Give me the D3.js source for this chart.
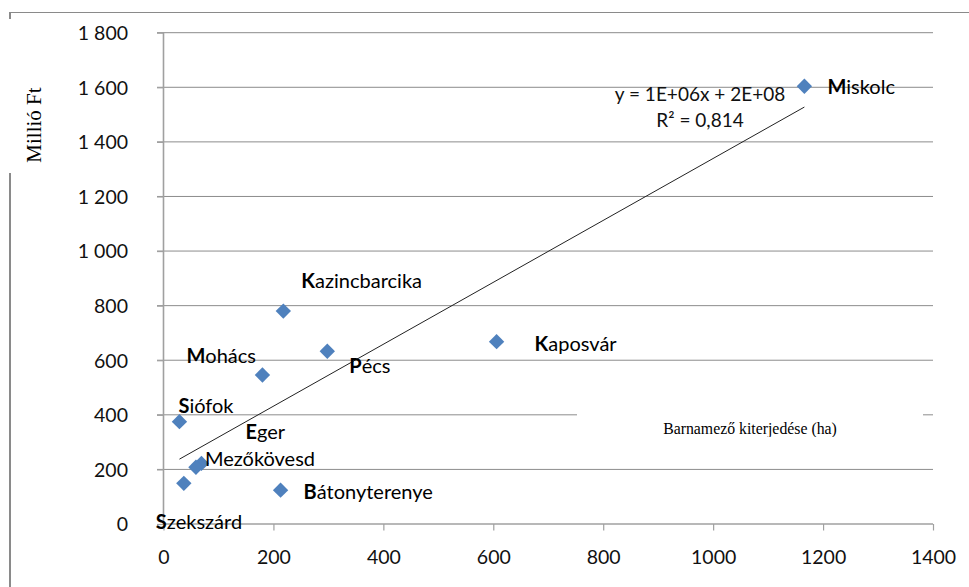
<!DOCTYPE html>
<html><head><meta charset="utf-8">
<script src="https://cdn.jsdelivr.net/npm/d3@7/dist/d3.min.js"></script>
<style>
html,body{margin:0;padding:0;background:#fff;}
svg{display:block;}
</style></head>
<body>
<script>
// ---- data ----
const cities = ["Miskolc","Kazincbarcika","Pécs","Kaposvár","Mohács","Siófok","Eger","Mezőkövesd","Szekszárd","Bátonyterenye"];
const area   = [1166, 218, 298, 606, 180, 29, 69, 59, 37, 213];      // ha
const value  = [1604, 780, 633, 668, 546, 375, 222, 208, 149, 124];  // Millió Ft
const boldFirst = [true,true,true,true,true,true,true,false,true,true];
const xTicks = [0,200,400,600,800,1000,1200,1400];
const yTicks = [0,200,400,600,800,1000,1200,1400,1600,1800];
const yTickLabels = ["0","200","400","600","800","1 000","1 200","1 400","1 600","1 800"];
const eqLines = ["y = 1E+06x + 2E+08","R² = 0,814"];
const xTitle = "Barnamező kiterjedése (ha)";
const yTitle = "Millió Ft";

// ---- layout (label offsets in px relative to marker) ----
const labelOffsets = [[23,8],[18,-23],[22,22],[38,9],[-76,-12],[-1,-9],[44,-24],[9,-1],[-28,46],[23,9]];

const W = 969, H = 587;
const svg = d3.select("body").append("svg").attr("width", W).attr("height", H);

const x = d3.scaleLinear().domain([0,1400]).range([163.5, 933]);
const y = d3.scaleLinear().domain([0,1800]).range([524, 32.7]);

// outer frame
svg.append("line").attr("x1",10).attr("x2",W).attr("y1",12.5).attr("y2",12.5).attr("stroke","#8a8a8a").attr("stroke-width",1.2);
svg.append("line").attr("x1",10).attr("x2",10).attr("y1",12).attr("y2",H).attr("stroke","#8a8a8a").attr("stroke-width",2);

// gridlines (horizontal)
svg.append("g").selectAll("line").data(yTicks.filter(d=>d>0)).join("line")
  .attr("x1",157).attr("x2",933)
  .attr("y1",d=>y(d)).attr("y2",d=>y(d))
  .attr("stroke","#8c8c8c").attr("stroke-width",1);

// axes
const fontSans = "Lato, 'Open Sans', sans-serif";
const yAxis = svg.append("g").attr("transform",`translate(${x(0)},0)`)
  .call(d3.axisLeft(y).tickValues(yTicks).tickSize(6.5).tickPadding(29).tickFormat((d,i)=>yTickLabels[i]));
const xAxis = svg.append("g").attr("transform",`translate(0,${y(0)})`)
  .call(d3.axisBottom(x).tickValues(xTicks).tickSize(6.5).tickPadding(20).tickFormat(d3.format("d")));
[xAxis,yAxis].forEach(a=>{
  a.select(".domain").attr("stroke","#a0a0a0").attr("stroke-width",1.6);
  a.selectAll(".tick line").attr("stroke","#a0a0a0").attr("stroke-width",1.2);
  a.selectAll("text").attr("font-family",fontSans).attr("font-size",19.5).attr("fill","#111");
});
yAxis.selectAll(".tick text").attr("dy","0.35em");
xAxis.selectAll(".tick text").attr("dy","0.68em");
yAxis.select(".domain").attr("d",`M0,${y(1800)}V${y(0)}`);
xAxis.select(".domain").attr("d",`M${x(0)},0H${x(1400)}`);

// x-axis title with white box (clipped)
const defs = svg.append("defs");
defs.append("clipPath").attr("id","xtclip").append("rect").attr("x",577).attr("y",404).attr("width",346).attr("height",33);
svg.append("rect").attr("x",577).attr("y",404).attr("width",346).attr("height",33).attr("fill","#fff");
svg.append("text").attr("clip-path","url(#xtclip)")
  .attr("x",750).attr("y",434).attr("text-anchor","middle")
  .attr("font-family","'Liberation Serif','Times New Roman',serif").attr("font-size",15.8).attr("fill","#000")
  .text(xTitle);

// y-axis title with white box
svg.append("rect").attr("x",0).attr("y",19).attr("width",58).attr("height",154).attr("fill","#fff");
svg.append("text").attr("transform","translate(41,125) rotate(-90)").attr("text-anchor","middle")
  .attr("font-family","'Liberation Serif','Times New Roman',serif").attr("font-size",21).attr("fill","#000")
  .text(yTitle);

// trendline from least squares
const n = area.length;
const mx = d3.mean(area), my = d3.mean(value);
let sxy=0, sxx=0;
for(let i=0;i<n;i++){ sxy += (area[i]-mx)*(value[i]-my); sxx += (area[i]-mx)**2; }
const slope = sxy/sxx, icpt = my - slope*mx;
const [xmin,xmax] = d3.extent(area);
svg.append("path")
  .attr("d", d3.line().x(d=>x(d)).y(d=>y(slope*d+icpt))([xmin,xmax]))
  .attr("stroke","#222").attr("stroke-width",1).attr("fill","none");

// equation
svg.append("g").selectAll("text").data(eqLines).join("text")
  .attr("x",700).attr("y",(d,i)=>101+i*26).attr("text-anchor","middle")
  .attr("font-family",fontSans).attr("font-size",19).attr("fill","#111")
  .text(d=>d);

// markers
const pts = cities.map((c,i)=>({c, x:area[i], y:value[i], b:boldFirst[i], off:labelOffsets[i]}));
svg.append("g").selectAll("path").data(pts).join("path")
  .attr("d", d3.symbol(d3.symbolSquare, 118)())
  .attr("transform", d=>`translate(${x(d.x)},${y(d.y)}) rotate(45)`)
  .attr("fill","#4F81BD");

// labels
const lab = svg.append("g").selectAll("text").data(pts).join("text")
  .attr("x", d=>x(d.x)+d.off[0]).attr("y", d=>y(d.y)+d.off[1])
  .attr("font-family",fontSans).attr("font-size",20).attr("fill","#000");
lab.each(function(d){
  const t = d3.select(this);
  if(d.b){
    t.append("tspan").attr("font-weight","bold").text(d.c.charAt(0));
    t.append("tspan").text(d.c.slice(1));
  } else {
    t.text(d.c);
  }
});
</script>
</body></html>
